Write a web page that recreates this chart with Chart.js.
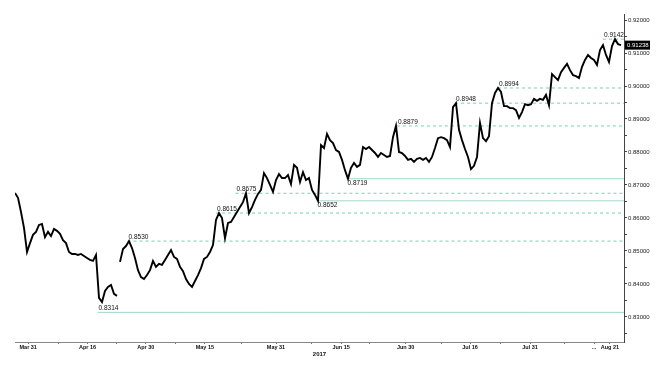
<!DOCTYPE html>
<html>
<head>
<meta charset="utf-8">
<script src="https://cdn.jsdelivr.net/npm/chart.js@4.4.0/dist/chart.umd.min.js"></script>
<style>
  html, body { margin: 0; padding: 0; background: #fff; }
  #wrap { width: 666px; height: 366px; position: relative; }
</style>
</head>
<body>
<div id="wrap"><canvas id="chart"></canvas></div>
<script>
// closes, one point per time step (Mar 31 -> Aug 21 2017)
const prices = [
  0.8676, 0.8661, 0.8618, 0.8570, 0.8497, 0.8524, 0.8549, 0.8558, 0.8579, 0.8582,
  0.8542, 0.8558, 0.8545, 0.8567, 0.8561, 0.8552, 0.8533, 0.8524, 0.8497, 0.8491,
  0.8491, 0.8488, 0.8491, 0.8485, 0.8479, 0.8473, 0.8470, 0.8488, 0.8358, 0.8345,
  0.8379, 0.8391, 0.8397, 0.8370, 0.8364, 0.8467, 0.8506, 0.8515, 0.8530, 0.8509,
  0.8479, 0.8442, 0.8421, 0.8415, 0.8427, 0.8442, 0.8470, 0.8452, 0.8461, 0.8458,
  0.8473, 0.8488, 0.8503, 0.8482, 0.8476, 0.8452, 0.8439, 0.8415, 0.8400, 0.8391,
  0.8409, 0.8427, 0.8448, 0.8476, 0.8482, 0.8497, 0.8518, 0.8594, 0.8615, 0.8600,
  0.8539, 0.8585, 0.8588, 0.8603, 0.8618, 0.8633, 0.8648, 0.8675, 0.8615, 0.8633,
  0.8655, 0.8673, 0.8685, 0.8736, 0.8721, 0.8700, 0.8679, 0.8715, 0.8733, 0.8721,
  0.8721, 0.8730, 0.8703, 0.8761, 0.8752, 0.8709, 0.8739, 0.8715, 0.8721, 0.8685,
  0.8670, 0.8652, 0.8821, 0.8812, 0.8855, 0.8836, 0.8827, 0.8806, 0.8800, 0.8776,
  0.8745, 0.8719, 0.8752, 0.8767, 0.8755, 0.8761, 0.8815, 0.8809, 0.8815, 0.8806,
  0.8797, 0.8785, 0.8797, 0.8791, 0.8785, 0.8788, 0.8845, 0.8879, 0.8800, 0.8797,
  0.8788, 0.8776, 0.8779, 0.8770, 0.8779, 0.8782, 0.8776, 0.8782, 0.8770, 0.8785,
  0.8812, 0.8842, 0.8845, 0.8842, 0.8836, 0.8815, 0.8936, 0.8948, 0.8867, 0.8836,
  0.8809, 0.8785, 0.8748, 0.8758, 0.8785, 0.8888, 0.8842, 0.8833, 0.8848, 0.8948,
  0.8979, 0.8994, 0.8982, 0.8939, 0.8939, 0.8933, 0.8933, 0.8927, 0.8903, 0.8921,
  0.8945, 0.8942, 0.8945, 0.8961, 0.8955, 0.8961, 0.8958, 0.8973, 0.8942, 0.9036,
  0.9027, 0.9018, 0.9042, 0.9055, 0.9067, 0.9048, 0.9033, 0.9030, 0.9024, 0.9058,
  0.9079, 0.9094, 0.9085, 0.9079, 0.9064, 0.9109, 0.9124, 0.9094, 0.9073, 0.9121,
  0.9142, 0.9127, 0.91238
];
const breaks = [34]; // no trading between these points

// swing highs / lows marked on the chart
const levels     = [0.8314, 0.8530, 0.8615, 0.8675, 0.8652, 0.8719, 0.8879, 0.8948, 0.8994, 0.9142];
const levelStart = [27.5,   37.5,   67,     73.5,   100.5,  110.5,  127.3,  146.7,  161,    196];
const levelKind  = ['low', 'high', 'high', 'high', 'low', 'low', 'high', 'high', 'high', 'high'];

const xTickPos    = [4.4, 14.4, 24.2, 33.9, 43.6, 53.6, 63.3, 75.6, 87, 98.9, 108.7, 118.3, 130.2, 142.2, 151.7, 161.7, 171.7, 183.3, 193, 198.3];
const xTickLabels = ['Mar 31', '', 'Apr 16', '', 'Apr 30', '', 'May 15', '', 'May 31', '', 'Jun 15', '', 'Jun 30', '', 'Jul 16', '', 'Jul 31', '', '...', 'Aug 21'];

const yTickValues = [0.825, 0.83, 0.835, 0.84, 0.845, 0.85, 0.855, 0.86, 0.865, 0.87, 0.875, 0.88, 0.885, 0.89, 0.895, 0.90, 0.905, 0.91, 0.915, 0.92];
const yTickLabels = ['', '0.83000', '', '0.84000', '', '0.85000', '', '0.86000', '', '0.87000', '', '0.88000', '', '0.89000', '', '0.90000', '', '0.91000', '', '0.92000'];

const lastPrice = prices[prices.length - 1];
const xMax = 203;
const yMin = 0.82242, yMax = 0.92182;
const FONT = '"Liberation Sans", Arial, sans-serif';

const levelSets = levels.map((v, k) => ({
  data: [{ x: levelStart[k], y: v }, { x: xMax, y: v }],
  borderColor: levelKind[k] === 'high' ? '#7dcfb1' : '#a4d6c9',
  borderDash: levelKind[k] === 'high' ? [3, 3] : [],
  borderWidth: 1,
  pointRadius: 0,
  order: 1
}));

const levelLabels = {
  id: 'levelLabels',
  afterDatasetsDraw(chart) {
    const { ctx, scales: { x, y } } = chart;
    const lowest = Math.min(...levels);
    ctx.save();
    ctx.font = '6.5px ' + FONT;
    ctx.fillStyle = '#111';
    ctx.textAlign = 'left';
    levels.forEach((v, k) => {
      const px = x.getPixelForValue(levelStart[k]) + 1;
      const py = y.getPixelForValue(v);
      const above = levelKind[k] === 'high' || v === lowest;
      ctx.textBaseline = above ? 'bottom' : 'top';
      ctx.fillText(v.toFixed(4), px, above ? py - 0.5 : py + 1);
    });
    ctx.restore();
  },
  afterDraw(chart) {
    // last price tag on the axis
    const { ctx, scales: { y } } = chart;
    const py = y.getPixelForValue(lastPrice);
    ctx.save();
    ctx.fillStyle = '#000';
    ctx.fillRect(y.left + 1, py - 4.5, 25, 9);
    ctx.fillStyle = '#fff';
    ctx.font = '6px ' + FONT;
    ctx.textAlign = 'left';
    ctx.textBaseline = 'middle';
    ctx.fillText(lastPrice.toFixed(5), y.left + 3, py + 0.5);
    ctx.restore();
  }
};

new Chart(document.getElementById('chart'), {
  type: 'line',
  data: {
    datasets: [{
      data: prices.map((p, i) => ({ x: i, y: p })),
      borderColor: '#000',
      borderWidth: 1.9,
      pointRadius: 0,
      tension: 0,
      order: 0,
      segment: {
        borderColor: c => breaks.includes(c.p0DataIndex) ? 'rgba(0,0,0,0)' : undefined
      }
    }].concat(levelSets)
  },
  options: {
    responsive: true,
    maintainAspectRatio: false,
    animation: false,
    layout: { padding: { left: 15, top: 14, right: 0, bottom: 0 } },
    plugins: { legend: { display: false }, tooltip: { enabled: false } },
    scales: {
      x: {
        type: 'linear',
        min: 0,
        max: xMax,
        afterBuildTicks: s => { s.ticks = xTickPos.map(v => ({ value: v })); },
        afterFit: s => { s.height = 24; },
        ticks: {
          autoSkip: false, maxRotation: 0, minRotation: 0, padding: 0,
          color: '#111',
          font: { family: FONT, size: 5.5, weight: 'bold' },
          callback: (v, i) => xTickLabels[i]
        },
        grid: { drawOnChartArea: false, tickLength: 2, color: '#777' },
        border: { color: '#888', width: 1 },
        title: {
          display: true, text: '2017', color: '#111',
          font: { family: FONT, size: 6, weight: 'bold' },
          padding: { top: 0, bottom: 8 }
        }
      },
      y: {
        position: 'right',
        min: yMin,
        max: yMax,
        afterBuildTicks: s => { s.ticks = yTickValues.map(v => ({ value: v })); },
        afterFit: s => { s.width = 42; },
        ticks: {
          autoSkip: false, padding: 1, color: '#222',
          font: { family: FONT, size: 6 },
          callback: (v, i) => yTickLabels[i]
        },
        grid: { drawOnChartArea: false, tickLength: 3, color: '#444' },
        border: { color: '#444', width: 1 }
      }
    }
  },
  plugins: [levelLabels]
});
</script>
</body>
</html>
